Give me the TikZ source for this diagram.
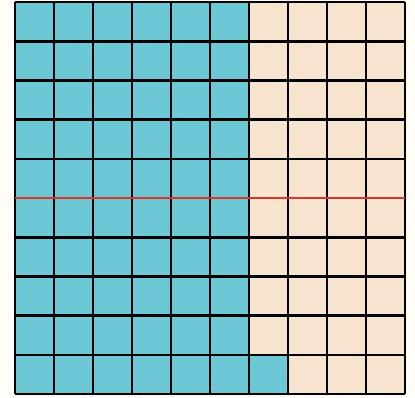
\documentclass[tikz,border=0pt]{standalone}
\usepackage{tikz}
\definecolor{tilecyan}{RGB}{108,200,212}
\definecolor{tilecream}{RGB}{246,228,206}
\definecolor{papercream}{RGB}{255,253,246}
\definecolor{halfred}{RGB}{222,52,40}

\begin{document}
\begin{tikzpicture}[x=39pt,y=-39.2pt]
		\fill[papercream] (-15/39,-2/39.2) rectangle (400/39,395/39.2);
		\useasboundingbox (-15/39,-2/39.2) rectangle (400/39,395/39.2);
		\fill[tilecream] (0,0) rectangle (10,10);
		\fill[tilecyan] (0,0) rectangle (6,10);
		\fill[tilecyan] (6,9) rectangle (7,10);
		\foreach \k in {0,...,10} {
			\draw[line width=2.6pt] (\k,0) -- (\k,10);
			\draw[line width=2.6pt] (0,\k) -- (10,\k);
		}
		\draw[color=halfred, line width=2.4pt] (0,5) -- (10,5);
	\end{tikzpicture}
\end{document}
